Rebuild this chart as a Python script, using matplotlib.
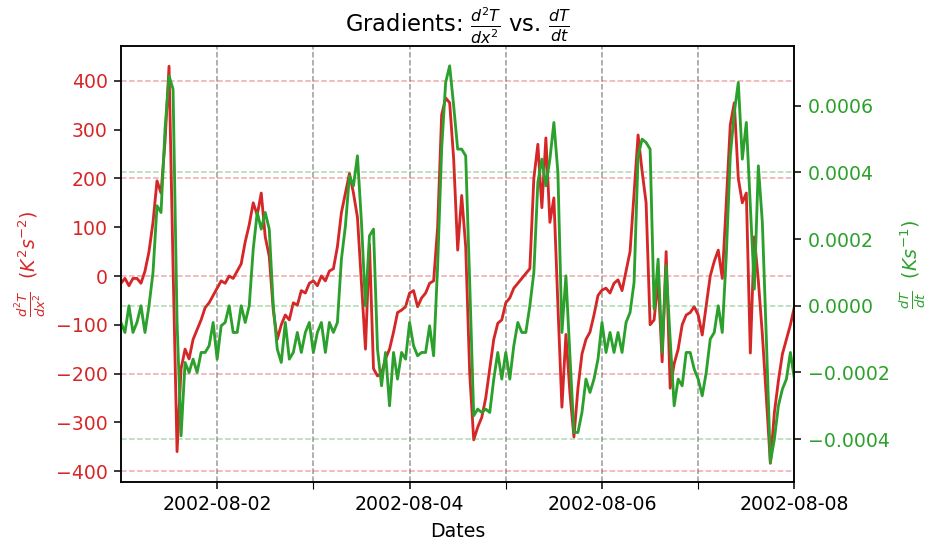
import numpy as np
import pandas as pd
import matplotlib
matplotlib.use('Agg')
import matplotlib.pyplot as plt
import matplotlib.dates as mdates

# hourly samples, 2002-08-01 00:00 .. 2002-08-08 00:00
dates = pd.date_range('2002-08-01', periods=169, freq='h')

d2T_dx2 = [
    -15, -5, -20, -5, -5, -15, 10, 50, 110, 195, 170, 275, 430, 20, -360, -190,
    -150, -170, -130, -110, -90, -65, -55, -40, -25, -10, -15, 0, -5, 10, 25, 70,
    105, 150, 125, 170, 80, 40, -70, -130, -100, -80, -90, -55, -60, -30, -35, -15,
    -10, -20, 0, -10, 10, 15, 60, 130, 170, 210, 170, 120, -15, -150, 65, -190,
    -205, -200, -170, -150, -115, -75, -70, -63, -35, -30, -63, -45, -35, -15, -10, 100,
    330, 365, 355, 240, 53, 165, 60, -200, -336, -310, -290, -250, -190, -130, -97, -90,
    -55, -45, -25, -15, -5, 5, 15, 200, 270, 140, 283, 110, 160, -60, -269, -120,
    -240, -330, -230, -160, -130, -115, -80, -40, -29, -25, -35, -15, -8, -30, 10, 50,
    170, 289, 215, 150, -100, -90, -5, -176, 50, -230, -180, -150, -100, -80, -75, -63,
    -80, -121, -60, 0, 30, 53, -5, 150, 310, 355, 200, 150, 170, -158, 80, -10,
    -120, -250, -384, -280, -215, -160, -130, -100, -63,
]

# dT/dt in units of 1e-4 K/s
dT_dt_e4 = [
    -0.5, -0.8, 0.0, -0.8, -0.5, 0.0, -0.8, 0.0, 1.0, 3.0, 2.8, 5.3, 6.9, 6.5, -0.5, -3.9,
    -1.7, -2.0, -1.6, -2.0, -1.4, -1.4, -1.2, -0.5, -1.6, -0.6, -0.5, 0.0, -0.8, -0.8, 0.0, -0.5,
    0.0, 1.7, 2.8, 2.3, 2.8, 2.3, 0.0, -1.3, -1.7, -0.5, -1.6, -1.4, -0.8, -1.4, -0.8, -0.5,
    -1.4, -0.8, -0.5, -1.4, -0.5, -0.8, -0.5, 1.4, 2.4, 3.9, 3.6, 4.5, 2.5, 0.0, 2.1, 2.3,
    -1.3, -2.4, -1.4, -3.0, -1.4, -2.2, -1.4, -1.6, -0.5, -1.2, -1.5, -1.4, -1.4, -0.6, -1.5, 1.2,
    4.7, 6.7, 7.2, 6.0, 4.7, 4.7, 4.5, 0.7, -3.3, -3.1, -3.2, -3.1, -3.2, -2.2, -1.4, -2.2,
    -1.4, -2.2, -1.2, -0.5, -0.8, -0.8, 0.0, 1.0, 3.7, 4.4, 3.6, 4.4, 5.5, 4.0, -0.8, 0.9,
    -1.5, -3.8, -3.8, -3.2, -2.2, -2.6, -2.2, -1.6, -0.5, -1.4, -0.8, -1.4, -0.8, -1.4, -0.5, -0.2,
    0.7, 4.5, 5.0, 4.9, 4.7, -0.1, 1.4, -1.4, 1.2, -1.0, -3.0, -2.2, -2.4, -1.4, -1.4, -1.9,
    -2.2, -2.7, -2.0, -1.0, -0.8, 0.0, -0.8, 1.5, 4.5, 5.8, 6.7, 4.4, 5.5, 3.0, 0.5, 4.2,
    2.5, -1.0, -4.7, -4.0, -3.0, -2.5, -2.2, -1.4, -2.2,
]

red_grid = [400, 200, 0, -200, -400]
green_grid = [0.0004, 0.0, -0.0004]

dT_dt = np.array(dT_dt_e4) * 1e-4

fig = plt.figure(figsize=(6.84, 4.015), dpi=136)
ax1 = fig.add_subplot(111)
fig.subplots_adjust(left=0.130, right=0.854, bottom=0.117, top=0.916)

c1 = 'tab:red'
c2 = 'tab:green'

ax1.plot(dates, d2T_dx2, color=c1)
ax1.set_ylim(-422.6, 471.8)
ax1.set_xlim(dates[0], dates[-1])
ax1.set_xlabel('Dates')
ax1.set_ylabel(r'$\frac{d^2T}{dx^2}$  $(K^2s^{-2})$', color=c1)
ax1.tick_params(axis='y', labelcolor=c1)
for v in red_grid:
    ax1.axhline(v, color=c1, alpha=0.4, linestyle='--', linewidth=0.8)

ax1.xaxis.set_major_locator(mdates.DayLocator(bymonthday=[2, 4, 6, 8]))
ax1.xaxis.set_minor_locator(mdates.DayLocator(bymonthday=[3, 5, 7]))
ax1.xaxis.set_major_formatter(mdates.DateFormatter('%Y-%m-%d'))
ax1.tick_params(axis='x', which='minor', length=3.5)
ax1.grid(axis='x', which='both', color='grey', linestyle='--', alpha=0.8)

ax2 = ax1.twinx()
ax2.plot(dates, dT_dt, color=c2)
ax2.set_ylim(-5.29e-4, 7.8e-4)
ax2.set_ylabel(r'$\frac{dT}{dt}$  $(Ks^{-1})$', color=c2)
ax2.tick_params(axis='y', labelcolor=c2)
for v in green_grid:
    ax2.axhline(v, color=c2, alpha=0.4, linestyle='--', linewidth=0.8)

ax1.set_title(r'Gradients: $\frac{d^2T}{dx^2}$ vs. $\frac{dT}{dt}$')

fig.savefig('out.png', dpi=136)
